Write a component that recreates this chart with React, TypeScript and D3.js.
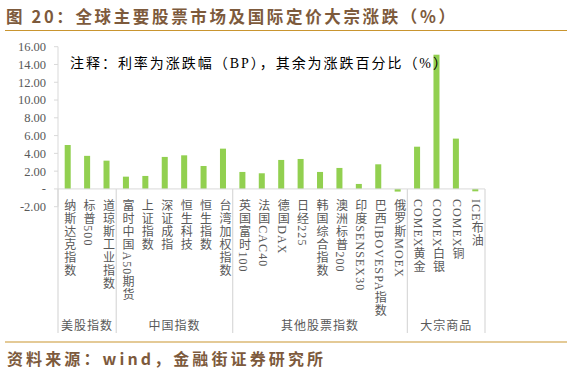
import React from 'react';
import * as d3 from 'd3';

// categories in display order, grouped below the axis
const categories = [
  '纳斯达克指数', '标普500', '道琼斯工业指数',
  '富时中国A50期货', '上证指数', '深证成指', '恒生科技', '恒生指数', '台湾加权指数',
  '英国富时100', '法国CAC40', '德国DAX', '日经225', '韩国综合指数', '澳洲标普200',
  '印度SENSEX30', '巴西IBOVESPA指数', '俄罗斯MOEX',
  'COMEX黄金', 'COMEX白银', 'COMEX铜', 'ICE布油',
];
const values = [
  4.94, 3.72, 3.18,
  1.38, 1.46, 3.6, 3.78, 2.58, 4.53,
  1.91, 1.76, 3.26, 3.37, 1.91, 2.36, 0.56, 2.77, -0.3,
  4.75, 15.1, 5.66, -0.27,
];
const groupNames = ['美股指数', '中国指数', '其他股票指数', '大宗商品'];
const groupSizes = [3, 6, 9, 4];
const yTicks = [-2, 0, 2, 4, 6, 8, 10, 12, 14, 16];

const W = 572;
const H = 375;
const left = 58;
const right = 485;
const top = 46.7;
const bottom = 206.7;
const gridColor = '#d9d9d9';
const labelColor = '#595959';
const serif = "'Liberation Serif', 'Noto Sans CJK SC', serif";
const brown = '#7d5a3c';
const gold = '#c9952f';

const App: React.FC = () => {
  const x = d3
    .scaleBand<string>()
    .domain(categories)
    .range([left, right])
    .paddingInner(0.69)
    .paddingOuter(0.345);
  const y = d3.scaleLinear().domain([-2, 16]).range([bottom, top]);
  const step = x.step();
  const y0 = y(0);

  // group boundaries
  const bounds: number[] = [left];
  groupSizes.reduce((acc, n) => {
    bounds.push(left + (acc + n) * step);
    return acc + n;
  }, 0);

  const fmt = (d: number) => (d === 0 ? '-' : d.toFixed(2));

  return (
    <svg
      width={W}
      height={H}
      style={{ position: 'absolute', left: 0, top: 0, background: '#fff' }}
    >
      {/* title */}
      <text
        x={6}
        y={22.5}
        fontSize={16.5}
        fontWeight="bold"
        fill={brown}
        textLength={449}
        lengthAdjust="spacing"
        fontFamily="'Noto Sans CJK SC', sans-serif"
      >
        图 20：全球主要股票市场及国际定价大宗涨跌（%）
      </text>
      <line x1={5} x2={567} y1={30.5} y2={30.5} stroke={gold} strokeWidth={1.2} />

      {/* y axis */}
      <line x1={left} x2={left} y1={top} y2={bottom} stroke={gridColor} />
      {yTicks.map((t) => (
        <g key={t}>
          <line x1={left - 4} x2={left} y1={y(t)} y2={y(t)} stroke={gridColor} />
          <text
            x={46}
            y={y(t)}
            dy="0.35em"
            textAnchor="end"
            fontSize={12.5}
            fill={labelColor}
            fontFamily={serif}
          >
            {fmt(t)}
          </text>
        </g>
      ))}

      {/* bars */}
      {categories.map((c, i) => {
        const v = values[i];
        return (
          <rect
            key={c}
            x={x(c)!}
            width={x.bandwidth()}
            y={Math.min(y(v), y0)}
            height={Math.abs(y(v) - y0)}
            fill="#92d050"
          />
        );
      })}

      {/* x axis + group separators */}
      <line x1={left} x2={right} y1={y0} y2={y0} stroke={gridColor} />
      {bounds.map((b, i) => (
        <line key={i} x1={b} x2={b} y1={y0} y2={333} stroke={gridColor} strokeWidth={1.2} />
      ))}

      {/* category labels, vertical */}
      {categories.map((c) => (
        <text
          key={c}
          x={x(c)! + x.bandwidth() / 2 + 1}
          y={199}
          fontSize={12}
          fill={labelColor}
          letterSpacing={1.1}
          fontFamily={serif}
          style={{ writingMode: 'vertical-rl' }}
        >
          {c}
        </text>
      ))}

      {/* group labels */}
      {groupNames.map((g, i) => (
        <text
          key={g}
          x={(bounds[i] + bounds[i + 1]) / 2}
          y={330}
          textAnchor="middle"
          fontSize={12}
          fill={labelColor}
          letterSpacing={1}
          fontFamily={serif}
        >
          {g}
        </text>
      ))}

      {/* note */}
      <text
        x={70}
        y={68}
        fontSize={14}
        fill="#000"
        textLength={377}
        lengthAdjust="spacing"
        fontFamily={serif}
      >
        注释：利率为涨跌幅（BP），其余为涨跌百分比（%）
      </text>

      {/* footer */}
      <line x1={5} x2={567} y1={342} y2={342} stroke={gold} strokeWidth={1.2} />
      <text
        x={7}
        y={365}
        fontSize={16}
        fontWeight="bold"
        fill={brown}
        textLength={316}
        lengthAdjust="spacing"
        fontFamily="'Noto Sans CJK SC', sans-serif"
      >
        资料来源：wind，金融街证券研究所
      </text>
    </svg>
  );
};

export default App;
